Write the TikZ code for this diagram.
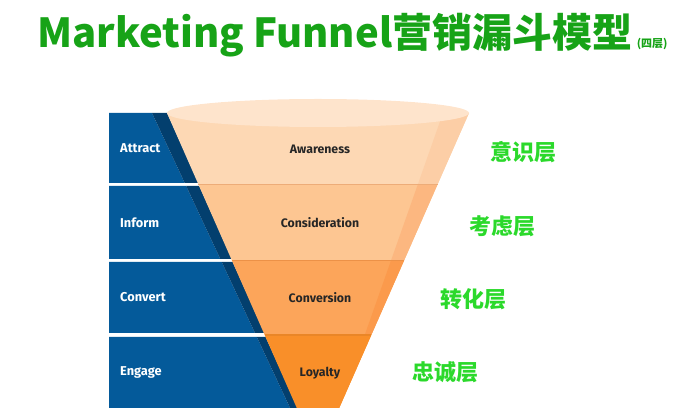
\documentclass[tikz,border=0pt]{standalone}
\usepackage{fontspec}
\setmainfont{Noto Sans CJK SC}
\newfontfamily\cjk{Noto Sans CJK SC}
\newfontfamily\stagefont{Fira Sans}
\usetikzlibrary{positioning, calc}

\definecolor{titlegreen}{HTML}{17A317}
\definecolor{tiergreen}{HTML}{2BD92B}
\definecolor{stageblue}{HTML}{045A9A}
\definecolor{stageshade}{HTML}{033F6E}
\definecolor{rim}{HTML}{FEE4CC}
\definecolor{awareC}{HTML}{FDD8B4}
\definecolor{awareS}{HTML}{FCCEA6}
\definecolor{considC}{HTML}{FDC692}
\definecolor{considS}{HTML}{FCB780}
\definecolor{convC}{HTML}{FCA55A}
\definecolor{convS}{HTML}{FB9A4C}
\definecolor{loyalC}{HTML}{F98F29}
\definecolor{loyalS}{HTML}{F98F29}

\tikzset{%
	titletext/.style={font=\cjk\bfseries\fontsize{40}{44}\selectfont, text=titlegreen, inner sep=0pt, anchor=base west},
	subtext/.style={font=\cjk\bfseries\fontsize{11}{12}\selectfont, text=titlegreen, inner sep=0pt, anchor=base west},
	stage/.style={font=\stagefont\bfseries\fontsize{12.8}{14}\selectfont, text=white, inner sep=0pt, anchor=west},
	layer/.style={font=\stagefont\bfseries\fontsize{12.3}{14}\selectfont, text=black!85, inner sep=0pt},
	tier/.style={font=\cjk\bfseries\fontsize{22}{24}\selectfont, text=tiergreen, inner sep=0pt}
}

\begin{document}
\begin{tikzpicture}[x=1pt, y=-1pt]
	\useasboundingbox (0,0) rectangle (689,419);

	% title
	\node[titletext] (title) at (37,48) {Marketing Funnel营销漏斗模型};
	\node[subtext, right=4pt of title.base east, anchor=base west] (sub) {(四层)};

	% blue stage blocks with shaded edge
	\foreach \top/\bot/\name/\txt in {113/183/attract/Attract, 186/259/inform/Inform,
		262/333/convert/Convert, 337/408/engage/Engage} {
		\pgfmathsetmacro{\flt}{167+0.44*(\top-113)}
		\pgfmathsetmacro{\flb}{167+0.44*(\bot-113)}
		\pgfmathsetmacro{\slt}{152+0.468*(\top-113)}
		\pgfmathsetmacro{\slb}{152+0.468*(\bot-113)}
		\fill[stageblue] (109,\top) -- (\slt,\top) -- (\slb,\bot) -- (109,\bot) -- cycle;
		\fill[stageshade] (\slt,\top) -- (\flt,\top) -- (\flb+1,\bot) -- (\slb,\bot) -- cycle;
		\node[stage] (\name) at (120,{(\top+\bot)/2}) {\txt};
	}

	% funnel layers
	\foreach \top/\bot/\fc/\sc in {113/184.5/awareC/awareS, 184.5/260.5/considC/considS,
		260.5/335/convC/convS, 335/408/loyalC/loyalS} {
		\pgfmathsetmacro{\flt}{167+0.44*(\top-113)}
		\pgfmathsetmacro{\flb}{167+0.44*(\bot-113)}
		\pgfmathsetmacro{\frt}{636-\flt}
		\pgfmathsetmacro{\frb}{636-\flb}
		\pgfmathsetmacro{\srt}{443-0.3525*(\top-113)}
		\pgfmathsetmacro{\srb}{443-0.3525*(\bot-113)}
		\fill[\fc] (\flt,\top) -- (\frt,\top) -- (\frb,\bot) -- (\flb,\bot) -- cycle;
		\fill[\sc] (\srt,\top) -- (\frt,\top) -- (\frb,\bot) -- (\srb,\bot) -- cycle;
	}
	\foreach \y/\c in {184.5/considS, 260.5/convS, 335/loyalC} {
		\pgfmathsetmacro{\fl}{167+0.44*(\y-113)}
		\draw[\c!90!black!60!\c, line width=1.5pt] (\fl,\y) -- ({636-\fl},\y);
	}
	\fill[rim] (318,113) ellipse [x radius=151, y radius=14];

	\node[layer] (aware) at (320,149) {Awareness};
	\node[layer] (consid) at (320,223) {Consideration};
	\node[layer] (conv) at (320,298) {Conversion};
	\node[layer] (loyal) at (320,373) {Loyalty};

	% chinese tier labels
	\node[tier] (yishi) at (523,152) {意识层};
	\node[tier] (kaolv) at (502,226) {考虑层};
	\node[tier] (zhuanhua) at (473,299) {转化层};
	\node[tier] (zhongcheng) at (445,372) {忠诚层};
\end{tikzpicture}
\end{document}
